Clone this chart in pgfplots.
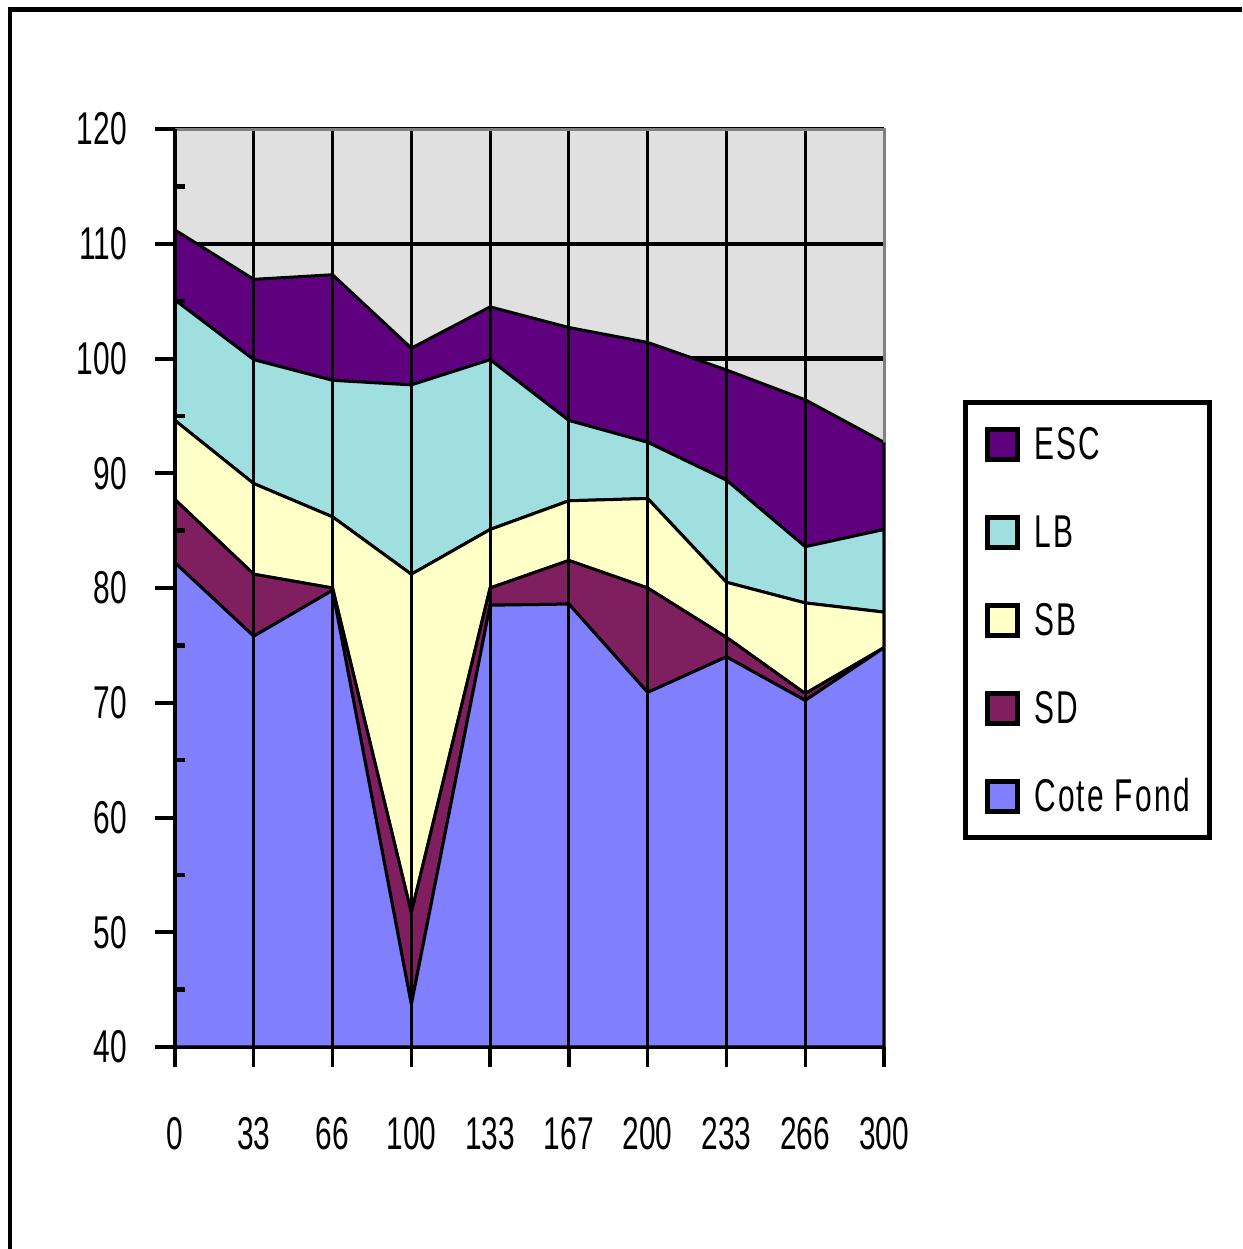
\documentclass[border=0pt]{standalone}
\usepackage{fontspec}
\usepackage{pgfplots}
\pgfplotsset{compat=1.18}
\usepackage{pgfplotstable}
\usetikzlibrary{calc}
\newfontfamily\chartfont[FakeStretch=0.65]{Liberation Sans}
\newfontfamily\legendfont[FakeStretch=0.65, LetterSpace=5]{Liberation Sans}
\definecolor{cESC}{HTML}{5F007F}
\definecolor{cLB}{HTML}{A0DFE0}
\definecolor{cSB}{HTML}{FFFFC8}
\definecolor{cSD}{HTML}{7F1F5F}
\definecolor{cCF}{HTML}{8080FF}
\definecolor{cBG}{HTML}{E0E0E0}
\pgfplotstableread{
x       cf   sd  sb   lb   esc
0       82.2 5.5 6.9  10.5 6.1
33.333  75.8 5.4 7.9  10.8 7.0
66.667  79.8 0.2 6.2  11.9 9.2
100     43.7 8.0 29.5 16.5 3.2
133.333 78.5 1.5 5.1  14.8 4.6
166.667 78.6 3.8 5.2  7.0  8.1
200     70.9 9.1 7.8  4.9  8.7
233.333 74.0 1.7 4.8  8.9  9.6
266.667 70.2 0.6 7.9  4.9  12.8
300     74.8 0.0 3.1  7.2  7.6
}\datatable
\begin{document}
\begin{tikzpicture}[x=1pt,y=1pt]
\useasboundingbox (0,0) rectangle (310.5,312.25);
\draw[line width=1.1pt] (2.5,0) -- (2.5,309.875) -- (310.5,309.875);
\begin{axis}[
  name=ax,
  at={(43.75pt,50.5pt)}, anchor=south west,
  scale only axis, width=177.25pt, height=229.5pt,
  xmin=0, xmax=300, ymin=40, ymax=120,
  stack plots=y,
  axis x line*=bottom, axis y line*=left,
  x axis line style={line width=1.25pt},
  y axis line style={line width=0.85pt},
  axis background/.style={fill=cBG},
  xtick={0,33.333,66.667,100,133.333,166.667,200,233.333,266.667,300},
  xticklabels={0,33,66,100,133,167,200,233,266,300},
  ytick={40,50,...,120},
  tick align=outside,
  major tick length=5pt,
  xtick style={line width=0.85pt, black},
  ytick style={line width=1pt, black},
  ymajorgrids,
  major grid style={line width=1.1pt, black},
  /pgf/number format/assume math mode=true,
  ticklabel style={font=\chartfont\fontsize{11.5}{13}\selectfont},
  yticklabel style={xshift=-3.5pt},
  xticklabel style={yshift=-9pt},
  reverse legend,
  legend cell align=left,
  legend image code/.code={\draw[#1, draw=black, line width=1.25pt] (0pt,-4.2pt) rectangle (7.5pt,3.3pt);},
  legend style={at={(1.111,0.705)}, anchor=north west, draw=black, line width=1.25pt,
    inner xsep=5pt, inner ysep=6pt, row sep=13pt,
    font=\legendfont\fontsize{11.5}{13}\selectfont,
    nodes={inner sep=0pt, text height=8.3pt, text depth=0pt},
    /tikz/every odd column/.append style={column sep=3.5pt}},
]
\addplot[fill=cCF, draw=black, line width=0.75pt] table[x=x,y=cf]{\datatable} \closedcycle;
\addlegendentry{Cote Fond}
\addplot[fill=cSD, draw=black, line width=0.75pt] table[x=x,y=sd]{\datatable} \closedcycle;
\addlegendentry{SD}
\addplot[fill=cSB, draw=black, line width=0.75pt] table[x=x,y=sb]{\datatable} \closedcycle;
\addlegendentry{SB}
\addplot[fill=cLB, draw=black, line width=0.75pt] table[x=x,y=lb]{\datatable} \closedcycle;
\addlegendentry{LB}
\addplot[fill=cESC, draw=black, line width=0.75pt] table[x=x,y=esc]{\datatable} \closedcycle;
\addlegendentry{ESC}
\end{axis}
% vertical lines over the areas
\foreach \i in {1,...,8} {
  \draw[line width=0.7pt] ($(ax.south west)!\i/9!(ax.south east)$) -- ($(ax.north west)!\i/9!(ax.north east)$);
}
% minor y ticks (inside)
\foreach \v in {45,55,65,75,85,95,105,115} {
  \draw[line width=1.1pt] ($(ax.south west)!{(\v-40)/80}!(ax.north west)$) -- ++(2.6pt,0pt);
}
\draw[gray, line width=0.75pt] (ax.north west) -- (ax.north east) -- (ax.south east);
\draw[line width=0.7pt] (ax.south east) -- ($(ax.south east)!0.65875!(ax.north east)$);
\draw[line width=0.85pt] (ax.south west) -- (ax.north west);
\end{tikzpicture}
\end{document}
